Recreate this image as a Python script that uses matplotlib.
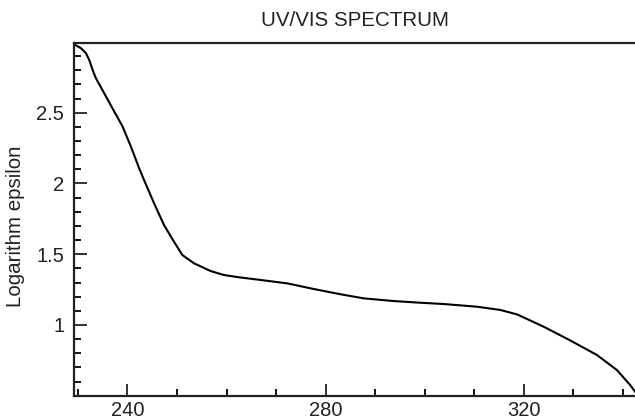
import matplotlib
matplotlib.use("Agg")
import matplotlib.pyplot as plt
from matplotlib.ticker import MultipleLocator

wavelength = [229.37, 230.58, 231.59, 232.26, 232.94, 233.61, 235.28, 237.30, 238.99,
              240.67, 242.34, 243.35, 245.37, 247.38, 249.40, 251.09, 253.43, 256.80,
              259.48, 262.51, 266.89, 272.27, 277.64, 283.02, 287.72, 293.77, 299.16,
              303.86, 310.59, 315.29, 318.66, 324.03, 329.24, 334.80, 338.83, 341.51, 342.52]
log_eps = [2.98, 2.957, 2.922, 2.875, 2.804, 2.745, 2.639, 2.51, 2.404,
           2.263, 2.109, 2.024, 1.86, 1.706, 1.588, 1.494, 1.436, 1.381,
           1.353, 1.337, 1.318, 1.294, 1.254, 1.217, 1.188, 1.169, 1.157,
           1.148, 1.129, 1.106, 1.075, 0.988, 0.894, 0.788, 0.682, 0.576, 0.528]

x_ticks = [240, 280, 320]
y_ticks = [1, 1.5, 2, 2.5]
y_tick_labels = ["1", "1.5", "2", "2.5"]

plt.rcParams['font.family'] = ['Liberation Sans', 'DejaVu Sans']

fig = plt.figure(figsize=(6.35, 4.19), dpi=100)
ax = fig.add_axes([74/635, 1-395.7/419, 1-74/635, (395.7-42.7)/419])

ax.plot(wavelength, log_eps, color='black', lw=1.5, solid_joinstyle='round')
ax.set_xlim(229.2, 342.5)
ax.set_ylim(0.50, 2.995)

ax.set_xticks(x_ticks)
ax.set_xticklabels([str(t) for t in x_ticks])
ax.set_yticks(y_ticks)
ax.set_yticklabels(y_tick_labels)
ax.xaxis.set_minor_locator(MultipleLocator(10))
ax.yaxis.set_minor_locator(MultipleLocator(0.1))

ax.tick_params(which='major', direction='in', length=9, width=1.3, labelsize=14.5, colors='#222222')
ax.tick_params(which='minor', direction='in', length=5, width=1.3)
ax.tick_params(axis='x', which='major', pad=4)
ax.tick_params(axis='y', which='major', pad=7)
ax.tick_params(top=False, right=False, which='both')

for s in ['left', 'bottom', 'top']:
    ax.spines[s].set_linewidth(1.6)
    ax.spines[s].set_color('#222222')
ax.spines['right'].set_visible(False)

ax.set_ylabel("Logarithm epsilon", fontsize=14.8, color='#222222', labelpad=6)
ax.yaxis.set_label_coords(-(74-25)/562, 0.48)
ax.set_title("UV/VIS SPECTRUM", fontsize=14.8, color='#222222', pad=12)

fig.savefig("out.png", dpi=100)
